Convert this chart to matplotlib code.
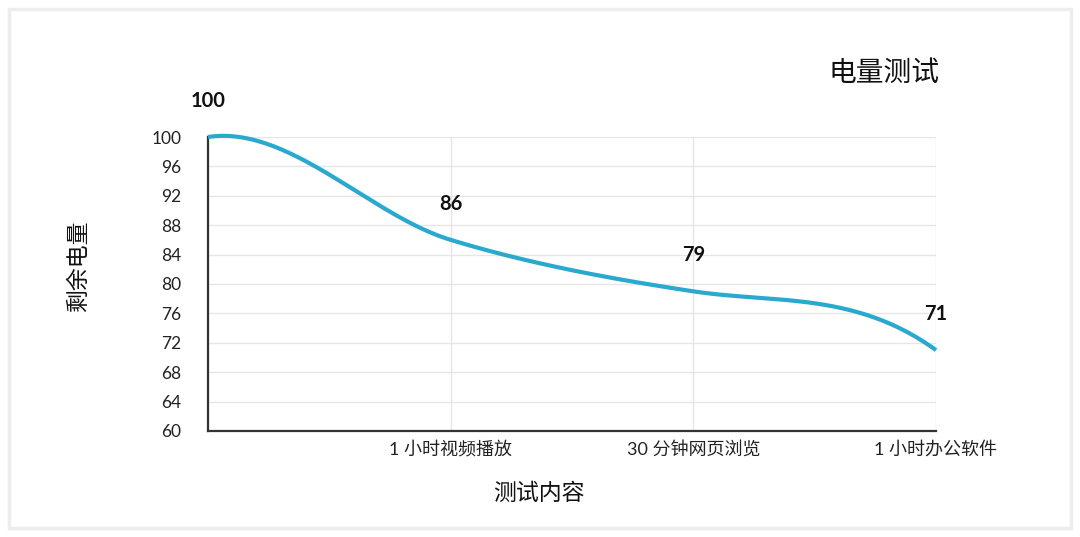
import numpy as np
import matplotlib
matplotlib.use("Agg")
import matplotlib.pyplot as plt
from matplotlib.patches import Rectangle

plt.rcParams['font.family'] = ['Lato', 'Noto Sans CJK SC', 'DejaVu Sans']

# ---- data ----
categories = ["", "1 小时视频播放", "30 分钟网页浏览", "1 小时办公软件"]
values = [100, 86, 79, 71]
y_ticks = [60, 64, 68, 72, 76, 80, 84, 88, 92, 96, 100]
title = "电量测试"
x_label = "测试内容"
y_label = "剩余电量"

# ---- smoothing (style: tangent slopes for cubic Hermite curve) ----
tangents = [5.0, -10.0, -5.0, -24.0]

def hermite_curve(xs, ys, ms, n=60):
    px, py = [], []
    for i in range(len(xs) - 1):
        h = xs[i + 1] - xs[i]
        t = np.linspace(0, 1, n)
        h00 = 2 * t**3 - 3 * t**2 + 1
        h10 = t**3 - 2 * t**2 + t
        h01 = -2 * t**3 + 3 * t**2
        h11 = t**3 - t**2
        seg = h00 * ys[i] + h10 * h * ms[i] + h01 * ys[i + 1] + h11 * h * ms[i + 1]
        px.append(xs[i] + t * h)
        py.append(seg)
    return np.concatenate(px), np.concatenate(py)

xs = np.arange(len(values))
cx, cy = hermite_curve(xs, values, tangents)

fig = plt.figure(figsize=(10.8, 5.37), dpi=100)
fig.patch.set_facecolor("white")

# outer frame
fig.patches.append(Rectangle((9 / 1080, 9 / 537), 1062 / 1080, 519 / 537,
                             transform=fig.transFigure, fill=False,
                             edgecolor="#ededed", linewidth=2.5, zorder=0))

ax = fig.add_axes([208 / 1080, 1 - 431 / 537, (936 - 208) / 1080, (431 - 137) / 537])
ax.set_xlim(0, len(values) - 1)
ax.set_ylim(60, 100)

ax.plot(cx, cy, color="#2aa9cf", linewidth=3.0, clip_on=False, zorder=3,
        solid_capstyle="butt")

for x, v in zip(xs, values):
    ax.annotate(str(v), (x, v), xytext=(0, 26), textcoords="offset points",
                ha="center", va="center", fontsize=14.5, fontweight="bold",
                color="#111111", annotation_clip=False)

ax.set_yticks(y_ticks)
ax.set_yticklabels([str(t) for t in y_ticks], fontsize=12.5, color="#222222")
ax.set_xticks(xs)
ax.set_xticklabels(categories, fontsize=13, color="#222222")
ax.tick_params(axis="both", length=0)
ax.tick_params(axis="y", pad=19)
ax.tick_params(axis="x", pad=7)

ax.grid(True, color="#e6e6e6", linewidth=1.0)
ax.set_axisbelow(True)
for s in ["top", "right"]:
    ax.spines[s].set_visible(False)
for s in ["left", "bottom"]:
    ax.spines[s].set_color("#333333")
    ax.spines[s].set_linewidth(1.6)

fig.text(884 / 1080, 1 - 73 / 537, title, ha="center", va="center",
         fontsize=20, color="#111111")
fig.text(539 / 1080, 1 - 493 / 537, x_label, ha="center", va="center",
         fontsize=16.5, color="#111111")
fig.text(78 / 1080, 1 - 266 / 537, y_label, ha="center", va="center",
         fontsize=16.5, color="#111111", rotation=90)

fig.savefig("out.png", dpi=100)
